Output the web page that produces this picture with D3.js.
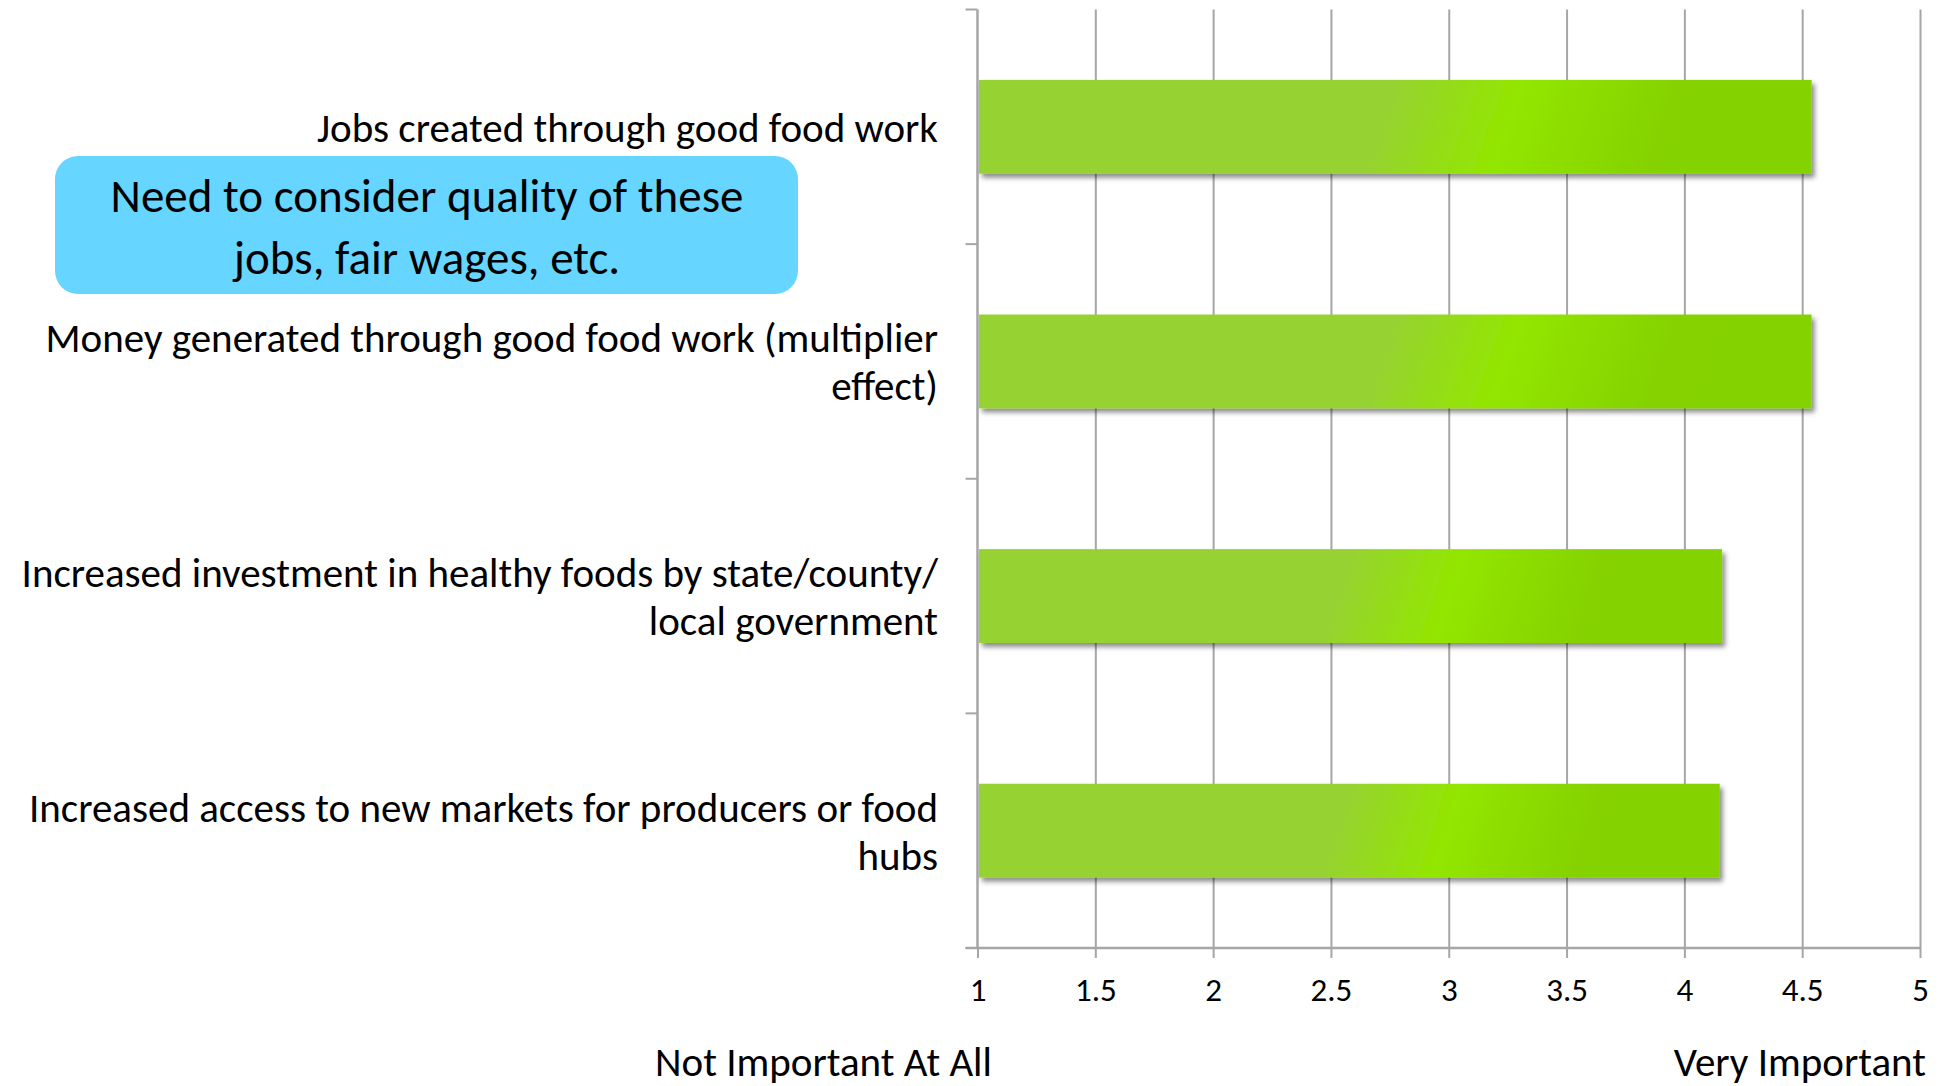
<!DOCTYPE html>
<html>
<head>
<meta charset="utf-8">
<script src="https://cdn.jsdelivr.net/npm/d3@7"></script>
<style>
  html, body { margin: 0; padding: 0; background: #ffffff; }
  svg { display: block; }
  text { font-family: Calibri, Carlito, Lato, "Open Sans", sans-serif; fill: #000; }
</style>
</head>
<body>
<svg id="chart" width="1941" height="1086"></svg>
<script>
// Survey categories, top to bottom, each split into its printed lines
const categoryLines = [
  ["Jobs created through good food work"],
  ["Money generated through good food work (multiplier", "effect)"],
  ["Increased investment in healthy foods by state/county/", "local government"],
  ["Increased access to new markets for producers or food", "hubs"]
];
// Mean importance rating per category (1 = not important, 5 = very important)
const ratings = [4.54, 4.54, 4.16, 4.15];
// Rating axis ticks
const ratingTicks = [1, 1.5, 2, 2.5, 3, 3.5, 4, 4.5, 5];
const scaleEnds = ["Not Important At All", "Very Important"];
const calloutLines = ["Need to consider quality of these", "jobs, fair wages, etc."];

const svg = d3.select("#chart");
const plot = { left: 977.5, right: 1920, top: 9.5, bottom: 948 };
const gridColor = "#a6a6a6";
const labelSize = 41;

const x = d3.scaleLinear().domain([1, 5]).range([plot.left, plot.right]);
const y = d3.scaleBand()
  .domain(d3.range(categoryLines.length))
  .range([plot.top, plot.bottom])
  .paddingInner(0.6)
  .paddingOuter(0.3);

// Bar fill: flat lime on the left, a bright band, then deeper green
const defs = svg.append("defs");
const grad = defs.append("linearGradient")
  .attr("id", "barFill")
  .attr("x1", 0).attr("y1", 0).attr("x2", 1).attr("y2", 0.04);
[[0, "#96d232"], [0.5, "#96d232"], [0.65, "#93e600"], [0.84, "#85d200"], [1, "#84d300"]]
  .forEach(([o, c]) => grad.append("stop").attr("offset", o).attr("stop-color", c));

const shadow = defs.append("filter").attr("id", "barShadow")
  .attr("x", "-5%").attr("y", "-20%").attr("width", "115%").attr("height", "150%");
shadow.append("feDropShadow")
  .attr("dx", 3).attr("dy", 4).attr("stdDeviation", 2.5)
  .attr("flood-color", "#000").attr("flood-opacity", 0.45);

// Vertical gridlines
const grid = svg.append("g")
  .attr("transform", `translate(0,${plot.top})`)
  .call(d3.axisBottom(x).tickValues(ratingTicks.slice(1)).tickSize(plot.bottom - plot.top).tickFormat(""));
grid.select(".domain").remove();
grid.selectAll(".tick line").attr("stroke", gridColor).attr("stroke-width", 2);

// Bottom rating axis
const xAxis = svg.append("g")
  .attr("transform", `translate(0,${plot.bottom})`)
  .call(d3.axisBottom(x).tickValues(ratingTicks).tickSize(10).tickPadding(20)
    .tickSizeOuter(0).tickFormat(d3.format("~g")));
xAxis.select(".domain")
  .attr("d", `M${plot.left - 12},0H${plot.right}`)
  .attr("stroke", gridColor).attr("stroke-width", 2.5);
xAxis.selectAll(".tick line").attr("stroke", gridColor).attr("stroke-width", 2);
xAxis.selectAll(".tick text")
  .attr("font-size", 33)
  .attr("font-family", "Calibri, Carlito, Lato, sans-serif")
  .attr("fill", "#000");

// Left category axis: boundary ticks between bands
const bounds = d3.range(categoryLines.length + 1).map(i => plot.top + i * y.step());
const yAxis = svg.append("g");
yAxis.append("line")
  .attr("x1", plot.left).attr("x2", plot.left)
  .attr("y1", plot.top).attr("y2", plot.bottom)
  .attr("stroke", gridColor).attr("stroke-width", 2.5);
yAxis.selectAll("line.bound").data(bounds).join("line")
  .attr("class", "bound")
  .attr("x1", plot.left - 12).attr("x2", plot.left)
  .attr("y1", d => d).attr("y2", d => d)
  .attr("stroke", gridColor).attr("stroke-width", 2);

// Bars
svg.append("g").selectAll("rect").data(ratings).join("rect")
  .attr("x", x(1) + 1.5)
  .attr("y", (d, i) => y(i))
  .attr("width", d => x(d) - x(1) - 1.5)
  .attr("height", y.bandwidth())
  .attr("fill", "url(#barFill)")
  .attr("filter", "url(#barShadow)");

// Category labels, right aligned against the axis
const lineGap = 48;
const labels = svg.append("g").selectAll("text").data(categoryLines).join("text")
  .attr("text-anchor", "end")
  .attr("font-size", labelSize)
  .attr("x", 938);
labels.each(function (lines, i) {
  const cy = y(i) + y.bandwidth() / 2;
  const first = cy - (lines.length - 1) * lineGap / 2 + 15;
  d3.select(this).selectAll("tspan").data(lines).join("tspan")
    .attr("x", 938)
    .attr("y", (d, k) => first + k * lineGap)
    .text(d => d);
});

// Scale end captions
svg.append("text")
  .attr("x", 823.5).attr("y", 1076)
  .attr("text-anchor", "middle").attr("font-size", labelSize)
  .text(scaleEnds[0]);
svg.append("text")
  .attr("x", 1926).attr("y", 1076)
  .attr("text-anchor", "end").attr("font-size", labelSize)
  .text(scaleEnds[1]);

// Callout note
const note = svg.append("g");
note.append("rect")
  .attr("x", 55).attr("y", 156).attr("width", 743).attr("height", 138)
  .attr("rx", 23).attr("ry", 23)
  .attr("fill", "#66d5ff");
note.selectAll("text").data(calloutLines).join("text")
  .attr("x", 427).attr("y", (d, i) => 212 + i * 62)
  .attr("text-anchor", "middle").attr("font-size", 47)
  .text(d => d);
</script>
</body>
</html>
